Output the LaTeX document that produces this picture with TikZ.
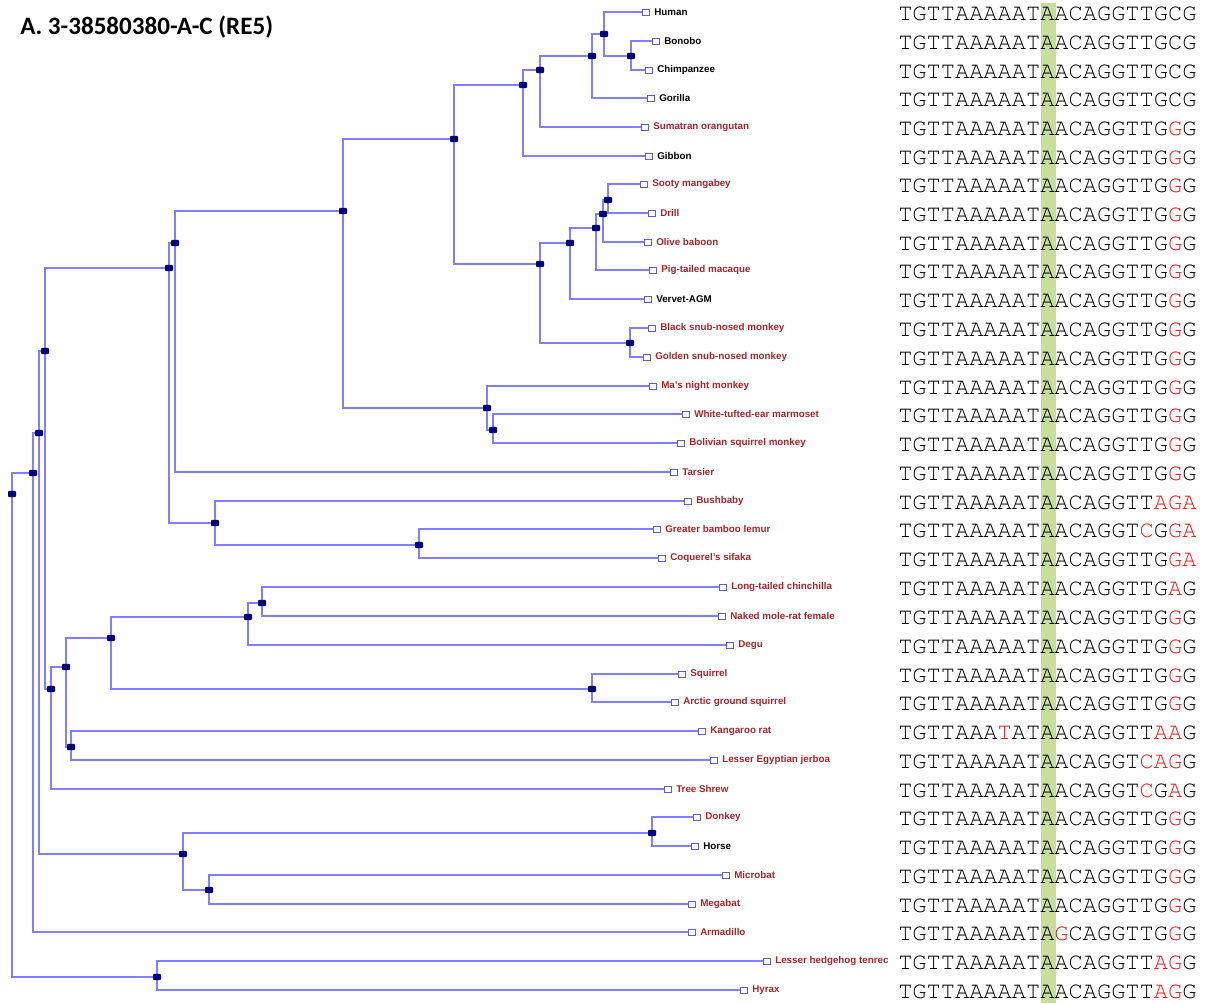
\documentclass[tikz,border=0pt]{standalone}
\usepackage{fontspec}
\setmainfont{Liberation Sans}
\newfontfamily\ttlfont{Carlito}
\newfontfamily\seqfont{texgyrecursor}[Extension=.otf,UprightFont=*-regular]
\usetikzlibrary{positioning,backgrounds}
\definecolor{treeblue}{RGB}{128,128,255}
\definecolor{nodenavy}{RGB}{0,0,120}
\definecolor{boxblue}{RGB}{95,95,200}
\definecolor{labred}{RGB}{168,36,40}
\definecolor{mutred}{RGB}{240,24,24}
\definecolor{hlgreen}{RGB}{198,224,155}
\newcommand{\mut}[1]{\textcolor{mutred}{#1}}
\begin{document}
\begin{tikzpicture}[x=0.75pt,y=-0.75pt,
  br/.style={draw=treeblue,line width=0.9pt},
  split/.style={fill=nodenavy,rounded corners=0.8pt,minimum width=6pt,minimum height=4.8pt,inner sep=0pt},
  tip/.style={draw=boxblue,fill=white,line width=0.6pt,minimum width=5.4pt,minimum height=4.6pt,inner sep=0pt},
  sp/.style={font=\fontsize{7.35}{8}\selectfont\bfseries,text=labred,inner sep=0pt},
  spk/.style={sp,text=black},
  seq/.style={font=\seqfont\fontsize{17.75}{18}\selectfont,anchor=west,inner sep=0pt}]
\useasboundingbox (0,0) rectangle (1205,1003);
\node[anchor=west,inner sep=0pt,font=\ttlfont\bfseries\fontsize{18.8}{20}\selectfont] (title) at (20,27) {A. 3-38580380-A-C (RE5)};
% leaves
\node[tip] (human) at (646,12) {};
\node[tip] (bonobo) at (656,41) {};
\node[tip] (chimp) at (649,70) {};
\node[tip] (gorilla) at (651,98) {};
\node[tip] (orang) at (645,127) {};
\node[tip] (gibbon) at (649,156) {};
\node[tip] (sooty) at (644,184) {};
\node[tip] (drill) at (652,213) {};
\node[tip] (olive) at (648,242) {};
\node[tip] (pigtail) at (653,270) {};
\node[tip] (vervet) at (648,299) {};
\node[tip] (blacksnub) at (652,328) {};
\node[tip] (goldsnub) at (647,357) {};
\node[tip] (nightm) at (653,386) {};
\node[tip] (marmoset) at (686,414) {};
\node[tip] (squirrelm) at (681,443) {};
\node[tip] (tarsier) at (674,472) {};
\node[tip] (bushbaby) at (688,501) {};
\node[tip] (bamboo) at (657,529) {};
\node[tip] (sifaka) at (662,558) {};
\node[tip] (chinchilla) at (723,587) {};
\node[tip] (molerat) at (722,616) {};
\node[tip] (degu) at (730,645) {};
\node[tip] (squirrel) at (682,674) {};
\node[tip] (arcticsq) at (675,702) {};
\node[tip] (kangaroo) at (702,731) {};
\node[tip] (jerboa) at (714,760) {};
\node[tip] (treeshrew) at (668,789) {};
\node[tip] (donkey) at (697,817) {};
\node[tip] (horse) at (695,846) {};
\node[tip] (microbat) at (726,875) {};
\node[tip] (megabat) at (692,904) {};
\node[tip] (armadillo) at (692,932) {};
\node[tip] (tenrec) at (767,961) {};
\node[tip] (hyrax) at (744,990) {};
% leaf names
\node[spk,right=3pt of human] (humanT) {Human};
\node[spk,right=3pt of bonobo] (bonoboT) {Bonobo};
\node[spk,right=3pt of chimp] (chimpT) {Chimpanzee};
\node[spk,right=3pt of gorilla] (gorillaT) {Gorilla};
\node[sp,right=3pt of orang] (orangT) {Sumatran orangutan};
\node[spk,right=3pt of gibbon] (gibbonT) {Gibbon};
\node[sp,right=3pt of sooty] (sootyT) {Sooty mangabey};
\node[sp,right=3pt of drill] (drillT) {Drill};
\node[sp,right=3pt of olive] (oliveT) {Olive baboon};
\node[sp,right=3pt of pigtail] (pigtailT) {Pig-tailed macaque};
\node[spk,right=3pt of vervet] (vervetT) {Vervet-AGM};
\node[sp,right=3pt of blacksnub] (blacksnubT) {Black snub-nosed monkey};
\node[sp,right=3pt of goldsnub] (goldsnubT) {Golden snub-nosed monkey};
\node[sp,right=3pt of nightm] (nightmT) {Ma's night monkey};
\node[sp,right=3pt of marmoset] (marmosetT) {White-tufted-ear marmoset};
\node[sp,right=3pt of squirrelm] (squirrelmT) {Bolivian squirrel monkey};
\node[sp,right=3pt of tarsier] (tarsierT) {Tarsier};
\node[sp,right=3pt of bushbaby] (bushbabyT) {Bushbaby};
\node[sp,right=3pt of bamboo] (bambooT) {Greater bamboo lemur};
\node[sp,right=3pt of sifaka] (sifakaT) {Coquerel's sifaka};
\node[sp,right=3pt of chinchilla] (chinchillaT) {Long-tailed chinchilla};
\node[sp,right=3pt of molerat] (moleratT) {Naked mole-rat female};
\node[sp,right=3pt of degu] (deguT) {Degu};
\node[sp,right=3pt of squirrel] (squirrelT) {Squirrel};
\node[sp,right=3pt of arcticsq] (arcticsqT) {Arctic ground squirrel};
\node[sp,right=3pt of kangaroo] (kangarooT) {Kangaroo rat};
\node[sp,right=3pt of jerboa] (jerboaT) {Lesser Egyptian jerboa};
\node[sp,right=3pt of treeshrew] (treeshrewT) {Tree Shrew};
\node[sp,right=3pt of donkey] (donkeyT) {Donkey};
\node[spk,right=3pt of horse] (horseT) {Horse};
\node[sp,right=3pt of microbat] (microbatT) {Microbat};
\node[sp,right=3pt of megabat] (megabatT) {Megabat};
\node[sp,right=3pt of armadillo] (armadilloT) {Armadillo};
\node[sp,right=3pt of tenrec] (tenrecT) {Lesser hedgehog tenrec};
\node[sp,right=3pt of hyrax] (hyraxT) {Hyrax};
% inner nodes
\node[split] (hpan) at (604,34) {};
\node[split] (pan) at (631,56) {};
\node[split] (homininae) at (592,56) {};
\node[split] (hominidae) at (540,70) {};
\node[split] (hominoid) at (523,85) {};
\node[split] (catarr) at (454,139) {};
\node[split] (owm) at (540,264) {};
\node[split] (cerco) at (570,243) {};
\node[split] (papio) at (596,228) {};
\node[split] (papio2) at (603,214) {};
\node[split] (papio3) at (608,200) {};
\node[split] (colob) at (630,343) {};
\node[split] (simii) at (343,211) {};
\node[split] (platy) at (487,408) {};
\node[split] (platy2) at (493,430) {};
\node[split] (haplo) at (175,243) {};
\node[split] (primates) at (169,268) {};
\node[split] (strep) at (215,523) {};
\node[split] (lemur) at (419,545) {};
\node[split] (euarch) at (45,351) {};
\node[split] (scand) at (51,689) {};
\node[split] (glires) at (66,667) {};
\node[split] (rodent) at (111,638) {};
\node[split] (hystri) at (248,617) {};
\node[split] (chin) at (262,603) {};
\node[split] (sciur) at (592,689) {};
\node[split] (dipo) at (71,747) {};
\node[split] (boreo) at (39,433) {};
\node[split] (laura) at (183,854) {};
\node[split] (equid) at (652,833) {};
\node[split] (bats) at (209,890) {};
\node[split] (euth) at (33,473) {};
\node[split] (afro) at (157,977) {};
\node[split] (root) at (12,494) {};
% branches
\begin{scope}[on background layer]
\draw[br] (hpan.center) |- (human.west) (hpan.center) |- (pan.center);
\draw[br] (pan.center) |- (bonobo.west) (pan.center) |- (chimp.west);
\draw[br] (homininae.center) |- (hpan.center) (homininae.center) |- (gorilla.west);
\draw[br] (hominidae.center) |- (homininae.center) (hominidae.center) |- (orang.west);
\draw[br] (hominoid.center) |- (hominidae.center) (hominoid.center) |- (gibbon.west);
\draw[br] (catarr.center) |- (hominoid.center) (catarr.center) |- (owm.center);
\draw[br] (owm.center) |- (cerco.center) (owm.center) |- (colob.center);
\draw[br] (cerco.center) |- (papio.center) (cerco.center) |- (vervet.west);
\draw[br] (papio.center) |- (papio2.center) (papio.center) |- (pigtail.west);
\draw[br] (papio2.center) |- (papio3.center) (papio2.center) |- (olive.west);
\draw[br] (papio3.center) |- (sooty.west) (papio3.center) |- (drill.west);
\draw[br] (colob.center) |- (blacksnub.west) (colob.center) |- (goldsnub.west);
\draw[br] (simii.center) |- (catarr.center) (simii.center) |- (platy.center);
\draw[br] (platy.center) |- (nightm.west) (platy.center) |- (platy2.center);
\draw[br] (platy2.center) |- (marmoset.west) (platy2.center) |- (squirrelm.west);
\draw[br] (haplo.center) |- (simii.center) (haplo.center) |- (tarsier.west);
\draw[br] (primates.center) |- (haplo.center) (primates.center) |- (strep.center);
\draw[br] (strep.center) |- (bushbaby.west) (strep.center) |- (lemur.center);
\draw[br] (lemur.center) |- (bamboo.west) (lemur.center) |- (sifaka.west);
\draw[br] (euarch.center) |- (primates.center) (euarch.center) |- (scand.center);
\draw[br] (scand.center) |- (glires.center) (scand.center) |- (treeshrew.west);
\draw[br] (glires.center) |- (rodent.center) (glires.center) |- (dipo.center);
\draw[br] (rodent.center) |- (hystri.center) (rodent.center) |- (sciur.center);
\draw[br] (hystri.center) |- (chin.center) (hystri.center) |- (degu.west);
\draw[br] (chin.center) |- (chinchilla.west) (chin.center) |- (molerat.west);
\draw[br] (sciur.center) |- (squirrel.west) (sciur.center) |- (arcticsq.west);
\draw[br] (dipo.center) |- (kangaroo.west) (dipo.center) |- (jerboa.west);
\draw[br] (boreo.center) |- (euarch.center) (boreo.center) |- (laura.center);
\draw[br] (laura.center) |- (equid.center) (laura.center) |- (bats.center);
\draw[br] (equid.center) |- (donkey.west) (equid.center) |- (horse.west);
\draw[br] (bats.center) |- (microbat.west) (bats.center) |- (megabat.west);
\draw[br] (euth.center) |- (boreo.center) (euth.center) |- (armadillo.west);
\draw[br] (afro.center) |- (tenrec.west) (afro.center) |- (hyrax.west);
\draw[br] (root.center) |- (euth.center) (root.center) |- (afro.center);
\end{scope}
% alignment
\fill[hlgreen] (1041,3) rectangle (1056,1003);
\node[seq] (humanS) at (898,14) {TGTTAAAAATAACAGGTTGCG};
\node[seq] (bonoboS) at (898,43) {TGTTAAAAATAACAGGTTGCG};
\node[seq] (chimpS) at (898,72) {TGTTAAAAATAACAGGTTGCG};
\node[seq] (gorillaS) at (898,100) {TGTTAAAAATAACAGGTTGCG};
\node[seq] (orangS) at (898,129) {TGTTAAAAATAACAGGTTG\mut{G}G};
\node[seq] (gibbonS) at (898,158) {TGTTAAAAATAACAGGTTG\mut{G}G};
\node[seq] (sootyS) at (898,186) {TGTTAAAAATAACAGGTTG\mut{G}G};
\node[seq] (drillS) at (898,215) {TGTTAAAAATAACAGGTTG\mut{G}G};
\node[seq] (oliveS) at (898,244) {TGTTAAAAATAACAGGTTG\mut{G}G};
\node[seq] (pigtailS) at (898,272) {TGTTAAAAATAACAGGTTG\mut{G}G};
\node[seq] (vervetS) at (898,301) {TGTTAAAAATAACAGGTTG\mut{G}G};
\node[seq] (blacksnubS) at (898,330) {TGTTAAAAATAACAGGTTG\mut{G}G};
\node[seq] (goldsnubS) at (898,359) {TGTTAAAAATAACAGGTTG\mut{G}G};
\node[seq] (nightmS) at (898,388) {TGTTAAAAATAACAGGTTG\mut{G}G};
\node[seq] (marmosetS) at (898,416) {TGTTAAAAATAACAGGTTG\mut{G}G};
\node[seq] (squirrelmS) at (898,445) {TGTTAAAAATAACAGGTTG\mut{G}G};
\node[seq] (tarsierS) at (898,474) {TGTTAAAAATAACAGGTTG\mut{G}G};
\node[seq] (bushbabyS) at (898,503) {TGTTAAAAATAACAGGTT\mut{AGA}};
\node[seq] (bambooS) at (898,531) {TGTTAAAAATAACAGGT\mut{C}G\mut{GA}};
\node[seq] (sifakaS) at (898,560) {TGTTAAAAATAACAGGTTG\mut{GA}};
\node[seq] (chinchillaS) at (898,589) {TGTTAAAAATAACAGGTTG\mut{A}G};
\node[seq] (moleratS) at (898,618) {TGTTAAAAATAACAGGTTG\mut{G}G};
\node[seq] (deguS) at (898,647) {TGTTAAAAATAACAGGTTG\mut{G}G};
\node[seq] (squirrelS) at (898,676) {TGTTAAAAATAACAGGTTG\mut{G}G};
\node[seq] (arcticsqS) at (898,704) {TGTTAAAAATAACAGGTTG\mut{G}G};
\node[seq] (kangarooS) at (898,733) {TGTTAAA\mut{T}ATAACAGGTT\mut{AA}G};
\node[seq] (jerboaS) at (898,762) {TGTTAAAAATAACAGGT\mut{CAG}G};
\node[seq] (treeshrewS) at (898,791) {TGTTAAAAATAACAGGT\mut{C}G\mut{A}G};
\node[seq] (donkeyS) at (898,819) {TGTTAAAAATAACAGGTTG\mut{G}G};
\node[seq] (horseS) at (898,848) {TGTTAAAAATAACAGGTTG\mut{G}G};
\node[seq] (microbatS) at (898,877) {TGTTAAAAATAACAGGTTG\mut{G}G};
\node[seq] (megabatS) at (898,906) {TGTTAAAAATAACAGGTTG\mut{G}G};
\node[seq] (armadilloS) at (898,934) {TGTTAAAAATA\mut{G}CAGGTTG\mut{G}G};
\node[seq] (tenrecS) at (898,963) {TGTTAAAAATAACAGGTT\mut{AG}G};
\node[seq] (hyraxS) at (898,992) {TGTTAAAAATAACAGGTT\mut{AG}G};
\end{tikzpicture}
\end{document}
